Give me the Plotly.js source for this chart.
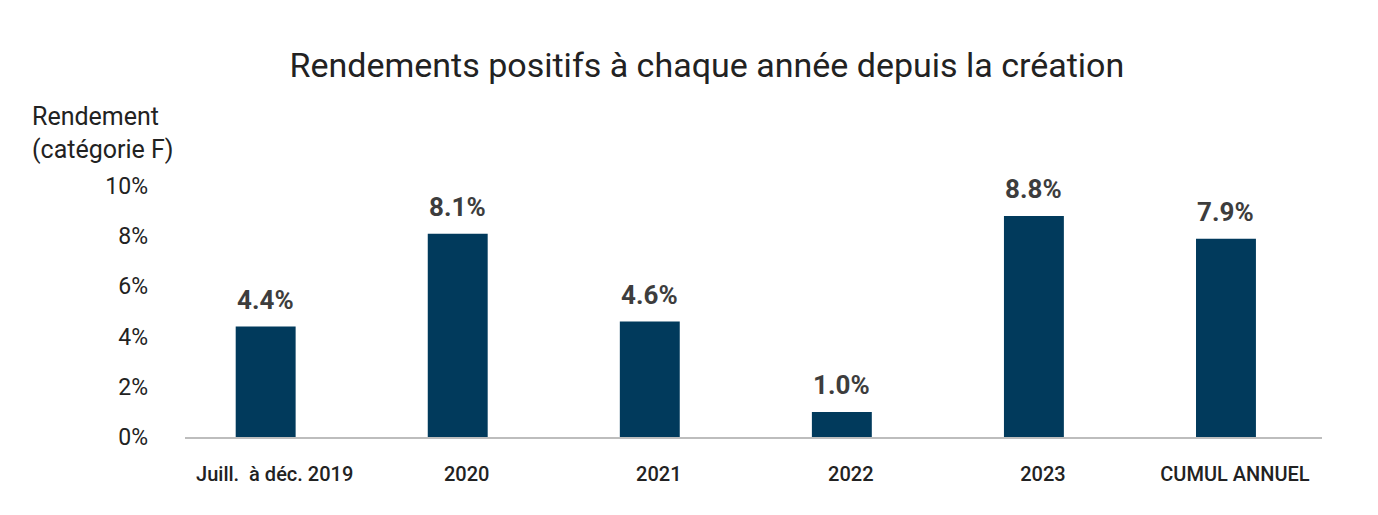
<!DOCTYPE html>
<html><head><meta charset="utf-8">
<script src="https://cdn.plot.ly/plotly-3.0.1.min.js"></script>
<style>html,body{margin:0;padding:0;background:#fff}#c{width:1378px;height:515px}</style>
</head><body><div id="c"></div>
<script>
const categories = ["Juill.  à déc. 2019", "2020", "2021", "2022", "2023", "CUMUL ANNUEL"];
const returns = [4.4, 8.1, 4.6, 1.0, 8.8, 7.9];
const valueLabels = ["4.4%", "8.1%", "4.6%", "1.0%", "8.8%", "7.9%"];
const yTicks = [0, 2, 4, 6, 8, 10];
const yTickLabels = ["0%", "2%", "4%", "6%", "8%", "10%"];

const idx = categories.map((_, i) => i);
const annotations = idx.map(i => ({
  x: i, y: returns[i], xref: 'x', yref: 'y', text: '<b>' + valueLabels[i] + '</b>',
  showarrow: false, yanchor: 'bottom', yshift: 10,
  font: {family: 'Roboto, sans-serif', size: 26, color: '#3d3d3d'}
}));
annotations.push({
  xref: 'paper', yref: 'paper', x: -0.136, y: 1.08, xanchor: 'left', yanchor: 'bottom',
  align: 'left', showarrow: false, text: 'Rendement<br>(catégorie F)',
  font: {family: 'Roboto, sans-serif', size: 25, color: '#222'}
});

Plotly.newPlot('c', [{
  type: 'bar', x: idx, y: returns, width: 0.312,
  marker: {color: '#013a5c'}, hoverinfo: 'none'
}], {
  width: 1378, height: 515,
  margin: {l: 185, r: 56, t: 186, b: 78},
  paper_bgcolor: '#fff', plot_bgcolor: '#fff',
  title: {text: 'Rendements positifs à chaque année depuis la création', x: 0.513, xanchor: 'center', y: 0.873, yanchor: 'middle',
    font: {family: 'Roboto, sans-serif', size: 34, color: '#222'}},
  showlegend: false,
  xaxis: {range: [-0.42, 5.5], tickmode: 'array', tickvals: idx, ticktext: categories,
    showgrid: false, zeroline: false, showline: true, linecolor: '#bdbdbd', linewidth: 1.5,
    ticks: '', ticklabelstandoff: 18, ticklabelshift: 9,
    tickfont: {family: 'Roboto, sans-serif', size: 20, color: '#222', weight: 500}, fixedrange: true},
  yaxis: {range: [0, 10], tickmode: 'array', tickvals: yTicks, ticktext: yTickLabels,
    showgrid: false, zeroline: false, showline: false, ticks: '', ticklabelstandoff: 36,
    tickfont: {family: 'Roboto, sans-serif', size: 23, color: '#222'}, fixedrange: true},
  annotations: annotations
}, {displayModeBar: false, staticPlot: true});
</script></body></html>
